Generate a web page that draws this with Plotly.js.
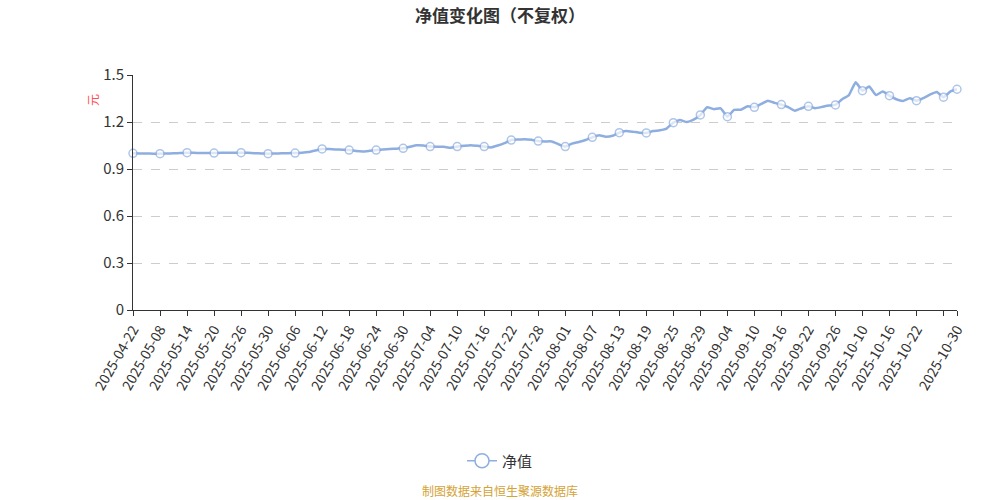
<!DOCTYPE html>
<html>
<head>
<meta charset="utf-8">
<script src="https://cdn.plot.ly/plotly-3.0.1.min.js"></script>
<style>
  html, body { margin: 0; padding: 0; background: #ffffff; }
  #chart { width: 1000px; height: 500px; }
</style>
</head>
<body>
<div id="chart"></div>
<script>
// Trading dates (categories)
const dates = [
  "2025-04-22","2025-04-30","2025-05-06","2025-05-07","2025-05-08","2025-05-09","2025-05-12","2025-05-13","2025-05-14","2025-05-15",
  "2025-05-16","2025-05-19","2025-05-20","2025-05-21","2025-05-22","2025-05-23","2025-05-26","2025-05-27","2025-05-28","2025-05-29",
  "2025-05-30","2025-06-03","2025-06-04","2025-06-05","2025-06-06","2025-06-09","2025-06-10","2025-06-11","2025-06-12","2025-06-13",
  "2025-06-16","2025-06-17","2025-06-18","2025-06-19","2025-06-20","2025-06-23","2025-06-24","2025-06-25","2025-06-26","2025-06-27",
  "2025-06-30","2025-07-01","2025-07-02","2025-07-03","2025-07-04","2025-07-07","2025-07-08","2025-07-09","2025-07-10","2025-07-11",
  "2025-07-14","2025-07-15","2025-07-16","2025-07-17","2025-07-18","2025-07-21","2025-07-22","2025-07-23","2025-07-24","2025-07-25",
  "2025-07-28","2025-07-29","2025-07-30","2025-07-31","2025-08-01","2025-08-04","2025-08-05","2025-08-06","2025-08-07","2025-08-08",
  "2025-08-11","2025-08-12","2025-08-13","2025-08-14","2025-08-15","2025-08-18","2025-08-19","2025-08-20","2025-08-21","2025-08-22",
  "2025-08-25","2025-08-26","2025-08-27","2025-08-28","2025-08-29","2025-09-01","2025-09-02","2025-09-03","2025-09-04","2025-09-05",
  "2025-09-08","2025-09-09","2025-09-10","2025-09-11","2025-09-12","2025-09-15","2025-09-16","2025-09-17","2025-09-18","2025-09-19",
  "2025-09-22","2025-09-23","2025-09-24","2025-09-25","2025-09-26","2025-09-29","2025-09-30","2025-10-09","2025-10-10","2025-10-13",
  "2025-10-14","2025-10-15","2025-10-16","2025-10-17","2025-10-20","2025-10-21","2025-10-22","2025-10-23","2025-10-24","2025-10-27",
  "2025-10-28","2025-10-29","2025-10-30"
];

// Unit NAV (净值)
const nav = [
  1.000,0.999,0.999,0.998,0.998,0.999,1.000,1.002,1.004,1.003,
  1.002,1.002,1.002,1.003,1.003,1.004,1.004,1.003,1.001,0.999,
  0.998,0.999,1.000,1.001,1.002,1.004,1.008,1.018,1.028,1.027,
  1.025,1.023,1.021,1.015,1.012,1.016,1.021,1.024,1.027,1.030,
  1.032,1.042,1.052,1.050,1.043,1.042,1.042,1.036,1.043,1.048,
  1.052,1.048,1.043,1.038,1.050,1.065,1.085,1.088,1.090,1.086,
  1.078,1.076,1.076,1.058,1.043,1.062,1.072,1.085,1.102,1.115,
  1.106,1.112,1.132,1.142,1.138,1.132,1.130,1.142,1.147,1.158,
  1.196,1.212,1.200,1.215,1.245,1.294,1.282,1.287,1.234,1.277,
  1.278,1.300,1.294,1.315,1.336,1.322,1.311,1.295,1.272,1.288,
  1.300,1.288,1.296,1.305,1.309,1.345,1.372,1.453,1.400,1.426,
  1.372,1.394,1.368,1.345,1.334,1.351,1.336,1.352,1.375,1.392,
  1.358,1.394,1.409
];

// Tick labels shown on the x axis (every 4th trading day, plus the last one)
const tickDates = [
  "2025-04-22","2025-05-08","2025-05-14","2025-05-20","2025-05-26","2025-05-30","2025-06-06","2025-06-12",
  "2025-06-18","2025-06-24","2025-06-30","2025-07-04","2025-07-10","2025-07-16","2025-07-22","2025-07-28",
  "2025-08-01","2025-08-07","2025-08-13","2025-08-19","2025-08-25","2025-08-29","2025-09-04","2025-09-10",
  "2025-09-16","2025-09-22","2025-09-26","2025-10-10","2025-10-16","2025-10-22","2025-10-28","2025-10-30"
];
const tickLabels = tickDates.map(d => d === "2025-10-28" ? "" : d);

const yTicks = [0, 0.3, 0.6, 0.9, 1.2, 1.5];
const yTickLabels = ["0", "0.3", "0.6", "0.9", "1.2", "1.5"];

const seriesName = "净值";
const titleText = "净值变化图（不复权）";
const unitText = "元";
const sourceText = "制图数据来自恒生聚源数据库";

// symbols shown every 4th point and at the last point
const showSym = dates.map((d, i) => (i % 4 === 0 || i === dates.length - 1));
const lineColor = "#8eaee0";

const trace = {
  type: "scatter",
  mode: "lines+markers",
  name: seriesName,
  x: dates,
  y: nav,
  showlegend: false,
  legendgroup: "nav",
  cliponaxis: false,
  line: { color: lineColor, width: 2.5, shape: "spline", smoothing: 0.4 },
  marker: {
    symbol: "circle",
    color: "#ffffff",
    size: showSym.map(s => s ? 8 : 0),
    line: { color: lineColor, width: showSym.map(s => s ? 1.5 : 0) }
  },
  hoverinfo: "x+y"
};

// legend entry only (no data drawn)
const legendTrace = {
  type: "scatter",
  mode: "lines+markers",
  name: seriesName,
  x: [null],
  y: [null],
  legendgroup: "nav",
  showlegend: true,
  line: { color: lineColor, width: 1.5 },
  marker: { symbol: "circle", color: "#ffffff", size: 14, line: { color: lineColor, width: 1.5 } },
  hoverinfo: "skip"
};

const fontFam = "'Noto Sans CJK SC', 'Noto Sans', sans-serif";

const layout = {
  width: 1000,
  height: 500,
  paper_bgcolor: "#ffffff",
  plot_bgcolor: "#ffffff",
  margin: { l: 133, r: 43, t: 75, b: 190 },
  font: { family: fontFam, color: "#333333" },
  title: {
    text: "<b>" + titleText + "</b>",
    x: 0.5, xanchor: "center",
    y: 1 - 16 / 500, yanchor: "middle",
    font: { size: 17, color: "#333333", family: fontFam }
  },
  showlegend: true,
  legend: {
    orientation: "h",
    x: (500 - 133) / 824, xanchor: "center",
    y: (310 - 461) / 235, yanchor: "middle",
    font: { size: 15, color: "#333333", family: fontFam }
  },
  xaxis: {
    type: "category",
    range: [0, dates.length - 1],
    tickmode: "array",
    tickvals: tickDates,
    ticktext: tickLabels,
    tickangle: -60,
    tickfont: { size: 14, color: "#333333", family: fontFam },
    ticks: "outside",
    ticklen: 5,
    tickcolor: "#333333",
    showline: true,
    linecolor: "#333333",
    linewidth: 1,
    showgrid: false,
    zeroline: false,
    fixedrange: true
  },
  yaxis: {
    range: [0, 1.5],
    tickmode: "array",
    tickvals: yTicks,
    ticktext: yTickLabels,
    tickfont: { size: 15, color: "#333333", family: fontFam },
    ticks: "outside",
    ticklen: 5,
    tickcolor: "#333333",
    showline: true,
    linecolor: "#333333",
    linewidth: 1,
    showgrid: true,
    gridcolor: "#cccccc",
    griddash: "dash",
    gridwidth: 1,
    zeroline: false,
    fixedrange: true
  },
  annotations: [
    {
      text: unitText,
      xref: "paper", yref: "paper",
      x: (92 - 133) / 824, y: (310 - 100) / 235,
      xanchor: "center", yanchor: "middle",
      textangle: -90,
      showarrow: false,
      font: { size: 12, color: "#ff4d4f", family: fontFam }
    },
    {
      text: sourceText,
      xref: "paper", yref: "paper",
      x: (500 - 133) / 824, y: (310 - 490) / 235,
      xanchor: "center", yanchor: "middle",
      showarrow: false,
      font: { size: 12, color: "#d4a236", family: fontFam }
    }
  ]
};

Plotly.newPlot("chart", [trace, legendTrace], layout, { displayModeBar: false });
</script>
</body>
</html>
